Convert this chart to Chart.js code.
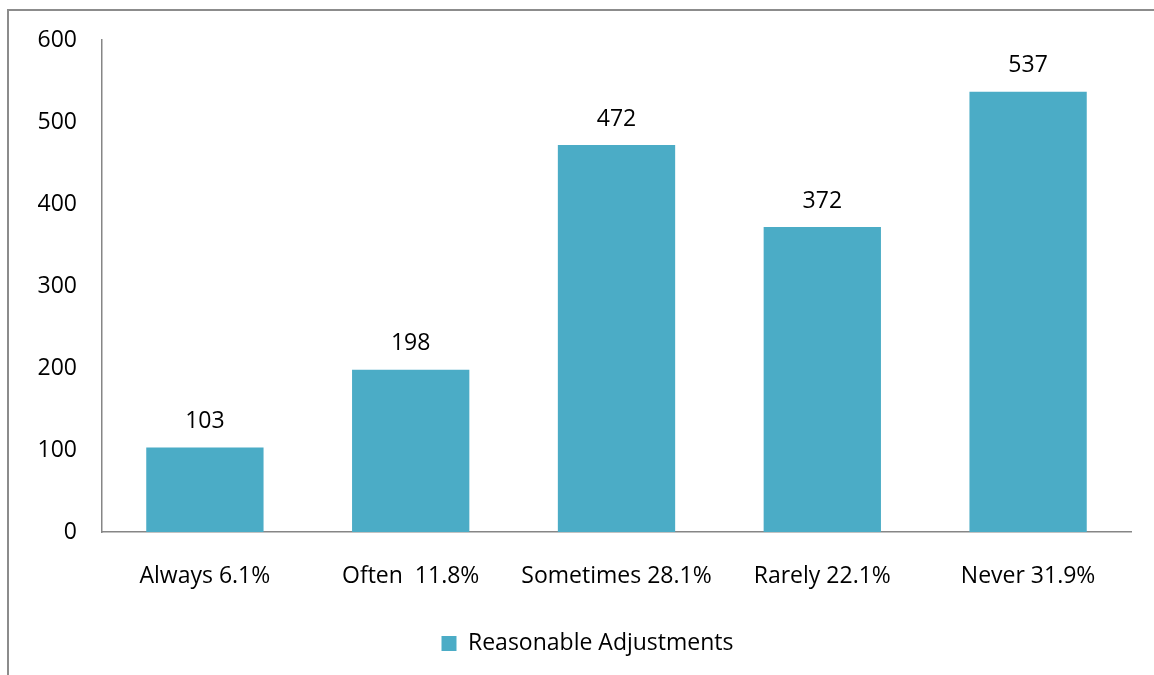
<!DOCTYPE html>
<html>
<head>
<meta charset="utf-8">
<script src="https://cdn.jsdelivr.net/npm/chart.js@4/dist/chart.umd.min.js"></script>
<style>
html,body{margin:0;padding:0;background:#fff;}
#wrap{position:absolute;left:0;top:0;width:1154px;height:675px;}
</style>
</head>
<body>
<div id="wrap"><canvas id="c" width="1154" height="675"></canvas></div>
<script>
const categories = ["Always 6.1%", "Often  11.8%", "Sometimes 28.1%", "Rarely 22.1%", "Never 31.9%"];
const seriesName = "Reasonable Adjustments";
const values = [103, 198, 472, 372, 537];
const yTicks = [0, 100, 200, 300, 400, 500, 600];

const FONT = "'Open Sans', 'Liberation Sans', sans-serif";
const BAR = '#4BACC6';
const AXIS = '#868686';

const framePlugin = {
  id: 'frame',
  beforeDraw(chart) {
    const ctx = chart.ctx;
    ctx.save();
    ctx.fillStyle = '#fff';
    ctx.fillRect(0, 0, chart.width, chart.height);
    ctx.strokeStyle = '#8c8c8c';
    ctx.lineWidth = 2;
    ctx.beginPath();
    ctx.moveTo(8, chart.height + 5);
    ctx.lineTo(8, 10);
    ctx.lineTo(chart.width + 5, 10);
    ctx.stroke();
    ctx.restore();
  }
};

const legendShift = {
  id: 'legendShift',
  afterLayout(chart) {
    if (chart.legend) {
      chart.legend.left += 22;
      chart.legend.right += 22;
    }
  }
};

const valueLabels = {
  id: 'valueLabels',
  afterDatasetsDraw(chart) {
    const ctx = chart.ctx;
    ctx.save();
    ctx.font = "23px " + FONT;
    ctx.fillStyle = '#000';
    ctx.textAlign = 'center';
    ctx.textBaseline = 'middle';
    chart.data.datasets.forEach((ds, i) => {
      chart.getDatasetMeta(i).data.forEach((bar, j) => {
        ctx.fillText(String(ds.data[j]), bar.x, bar.y - 26);
      });
    });
    ctx.restore();
  }
};

new Chart(document.getElementById('c'), {
  type: 'bar',
  data: {
    labels: categories,
    datasets: [{
      label: seriesName,
      data: values,
      backgroundColor: BAR,
      borderWidth: 0,
      barPercentage: 0.57,
      categoryPercentage: 1.0
    }]
  },
  options: {
    responsive: false,
    animation: false,
    devicePixelRatio: 1,
    layout: { padding: { left: 0, right: 23, top: 40, bottom: 10 } },
    plugins: {
      tooltip: { enabled: false },
      legend: {
        display: true,
        position: 'bottom',
        labels: {
          font: { family: FONT, size: 23 },
          color: '#000',
          boxWidth: 15,
          boxHeight: 15,
          padding: 10
        }
      }
    },
    scales: {
      x: {
        grid: { display: false, drawTicks: false },
        border: { display: true, color: AXIS, width: 1.5 },
        ticks: { font: { family: FONT, size: 23 }, color: '#000', padding: 31, maxRotation: 0, autoSkip: false },
        afterFit(scale) { scale.height = 90; }
      },
      y: {
        min: 0, max: 600,
        afterBuildTicks(scale) { scale.ticks = yTicks.map(v => ({ value: v })); },
        grid: { display: false, drawTicks: false },
        border: { display: true, color: AXIS, width: 1.5 },
        ticks: { font: { family: FONT, size: 23 }, color: '#000', padding: 25 },
        afterFit(scale) { scale.width = 102; }
      }
    }
  },
  plugins: [framePlugin, legendShift, valueLabels]
});
</script>
</body>
</html>
